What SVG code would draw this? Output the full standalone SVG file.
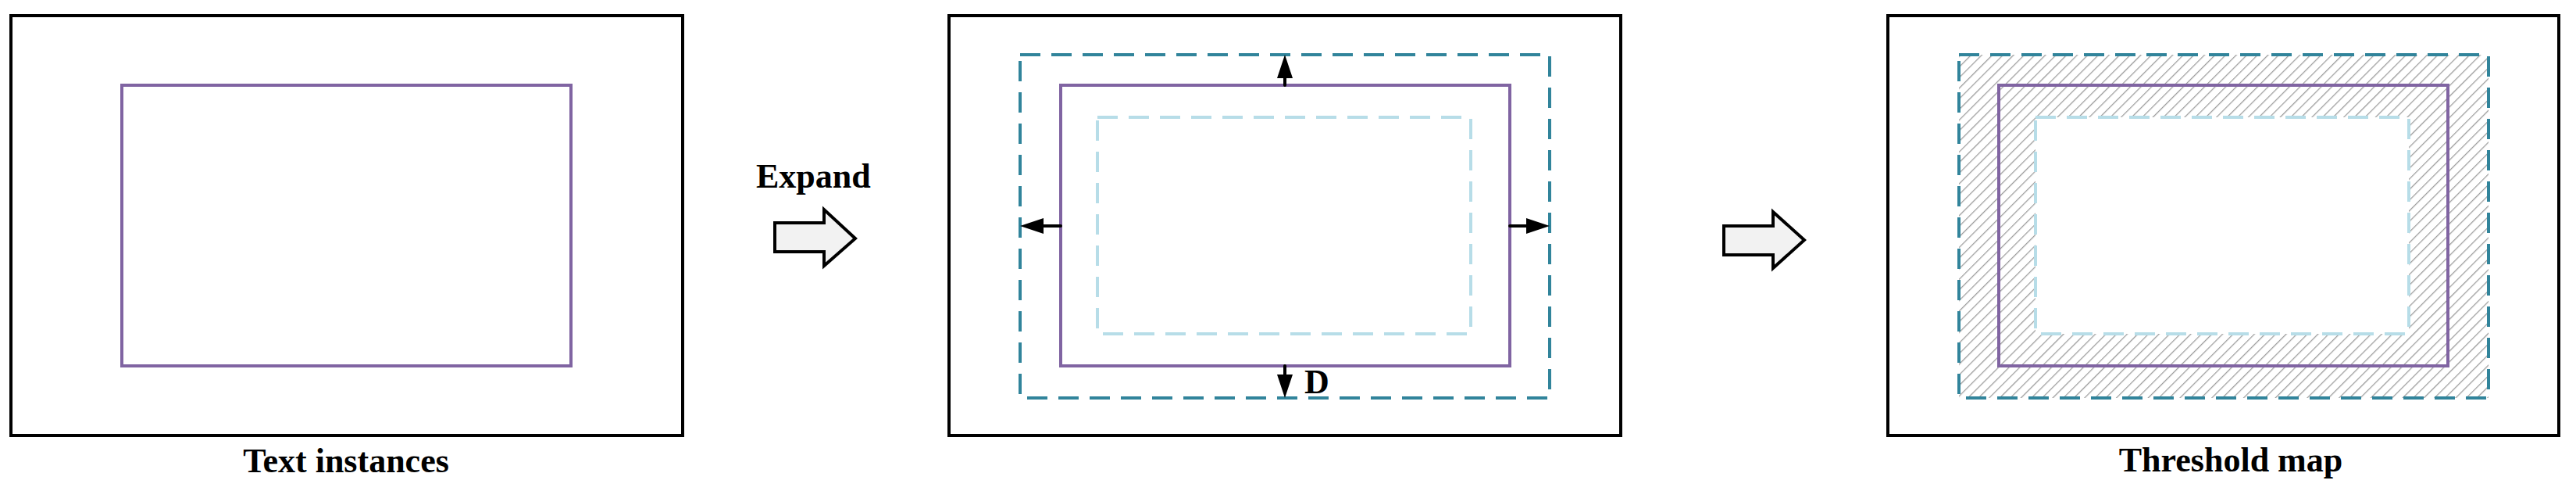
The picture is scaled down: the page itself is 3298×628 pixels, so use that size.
<svg xmlns="http://www.w3.org/2000/svg" width="3298" height="628" viewBox="0 0 3298 628">
  <style>
    .frame { fill: #ffffff; stroke: #000000; stroke-width: 4; }
    .box { fill: none; stroke: #8064A2; stroke-width: 4; }
    .outer { fill: none; stroke: #31849B; stroke-width: 4; stroke-dasharray: 26 14; }
    .inner { fill: none; stroke: #B7DDE8; stroke-width: 4; stroke-dasharray: 26 14; }
    .lbl { font-family: "Liberation Serif", "Times New Roman", serif; font-weight: bold; font-size: 44px; fill: #000000; }
    .shaft { stroke: #000000; stroke-width: 4; stroke-linecap: round; }
    .head { fill: #000000; }
    .block { fill: #F2F2F2; stroke: #000000; stroke-width: 4; stroke-linejoin: miter; }
  </style>
  <defs>
    <pattern id="hatch" patternUnits="userSpaceOnUse" width="9.6" height="9.6" patternTransform="rotate(45)">
      <line x1="0" y1="0" x2="0" y2="9.6" stroke="#9C9C9C" stroke-width="2.5"/>
    </pattern>
  </defs>
  <rect width="3298" height="628" fill="#ffffff"/>

  <g id="text-instances">
    <rect class="frame" x="14" y="20" width="860" height="537"/>
    <rect class="box" x="156" y="109" width="575" height="359"/>
    <text class="lbl" x="443" y="604" text-anchor="middle">Text instances</text>
  </g>

  <g id="expand-arrow">
    <path class="block" d="M992,285 L1055,285 L1055,268 L1095,305 L1055,340 L1055,322 L992,322 Z"/>
    <text class="lbl" x="968" y="240">Expand</text>
  </g>

  <g id="expanded">
    <rect class="frame" x="1215" y="20" width="860" height="537"/>
    <rect class="outer" x="1306" y="70" width="678" height="439"/>
    <rect class="inner" x="1405" y="150" width="478" height="277"/>
    <rect class="box" x="1358" y="109" width="575" height="359"/>
    <text class="lbl" x="1670" y="503">D</text>
  </g>

  <g id="connectors">
    <line class="shaft" x1="1645" y1="109" x2="1645" y2="95"/>
    <polygon class="head" points="1645,70 1635,100 1655,100"/>
    <line class="shaft" x1="1645" y1="468" x2="1645" y2="482"/>
    <polygon class="head" points="1645,509 1635,479 1655,479"/>
    <line class="shaft" x1="1358" y1="289" x2="1332" y2="289"/>
    <polygon class="head" points="1306,289 1336,279 1336,299"/>
    <line class="shaft" x1="1933" y1="289" x2="1959" y2="289"/>
    <polygon class="head" points="1984,289 1954,279 1954,299"/>
  </g>

  <g id="result-arrow">
    <path class="block" d="M2207,289 L2270,289 L2270,271 L2310,307 L2270,343 L2270,326 L2207,326 Z"/>
  </g>

  <g id="threshold-map">
    <rect class="frame" x="2417" y="20" width="859" height="537"/>
    <path d="M2508,70 H3186 V509 H2508 Z M2606,150 V427 H3084 V150 Z" fill="url(#hatch)" fill-rule="evenodd"/>
    <rect class="outer" x="2508" y="70" width="678" height="439"/>
    <rect class="inner" x="2606" y="150" width="478" height="277"/>
    <rect class="box" x="2559" y="109" width="575" height="359"/>
    <text class="lbl" x="2856" y="603" text-anchor="middle">Threshold map</text>
  </g>
</svg>
